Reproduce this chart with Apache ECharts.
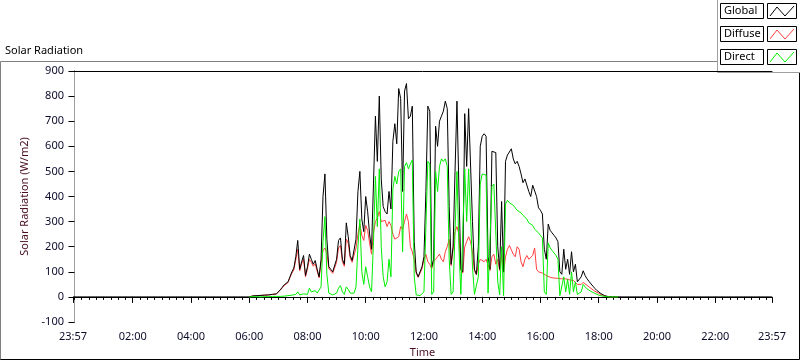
<!DOCTYPE html>
<html><head><meta charset="utf-8">
<script src="https://cdn.jsdelivr.net/npm/echarts@6/dist/echarts.min.js"></script>
<style>html,body{margin:0;padding:0;background:#fff;}#c{width:800px;height:361px;}</style>
</head><body><div id="c"></div>
<script>
// ---- axis ----
const axisMinMinute = -3, axisMaxMinute = 1437;
const majorTickMinutes = [-3,120,240,360,480,600,720,840,960,1080,1200,1320,1437];
const majorTickLabels = ['23:57','02:00','04:00','06:00','08:00','10:00','12:00','14:00','16:00','18:00','20:00','22:00','23:57'];
const yMin = -100, yMax = 900, yStep = 100;
// ---- data: samples every 4 minutes starting 06:00 ----
const startMinute = 360, stepMinute = 4;
const nightValue = 0;
const globalVals = [0,3,4,3,5,4,6,5,7,8,
8,9,10,10,12,18,28,38,48,52,
60,80,100,115,160,225,110,140,165,85,
120,170,150,130,145,110,80,150,400,490,
230,120,110,100,95,150,225,235,150,130,
295,240,165,145,150,230,420,500,310,260,
400,340,250,190,450,720,540,800,470,360,
340,330,420,350,620,690,610,830,790,420,
820,850,710,720,760,220,100,80,85,120,
160,420,760,740,120,150,680,600,700,720,
740,780,750,360,130,200,500,780,430,110,
100,730,520,750,745,300,110,90,200,600,
640,650,640,160,110,580,585,575,200,110,
380,100,540,565,560,590,550,530,540,520,
490,455,470,465,420,400,445,450,400,355,
345,330,190,150,290,265,255,245,235,220,
100,90,190,110,150,90,180,100,130,60,
55,80,104,85,72,62,52,43,34,26,
20,14,9,5,3,1,0,0,0,0,0];
const diffuseVals = [0,3,4,3,5,4,6,5,7,8,
8,9,10,10,12,17,27,36,45,50,
57,77,95,108,148,190,104,132,150,80,
112,150,138,122,132,102,76,135,185,195,
175,112,104,94,88,138,195,205,140,122,
230,215,155,138,140,195,250,290,245,225,
285,265,215,170,255,300,315,340,300,295,
305,280,300,285,250,230,225,240,280,270,
300,330,300,200,180,150,95,78,82,112,
150,170,140,130,112,140,150,160,170,150,
140,180,200,230,125,190,260,280,250,105,
95,200,220,240,220,180,105,88,130,150,
145,140,150,150,105,160,170,130,150,105,
170,98,160,190,205,200,170,160,200,190,
140,120,150,165,150,145,165,195,110,100,
95,95,90,85,80,78,76,75,74,74,
74,72,78,72,70,68,72,65,60,50,
45,50,58,52,46,40,34,28,23,18,
14,10,6,4,2,1,0,0,0,0,0];
const directVals = [0,0,1,0,1,1,0,1,1,0,
1,1,2,1,2,3,2,3,3,4,
5,5,7,8,10,20,8,10,12,6,
10,35,20,15,25,15,8,40,220,320,
90,15,10,8,8,15,35,45,20,10,
40,30,15,10,15,40,200,310,100,50,
120,80,40,20,220,480,280,510,200,80,
40,60,150,80,430,480,450,500,510,180,
520,535,510,530,545,80,8,5,5,10,
20,280,540,530,10,20,500,420,520,550,
540,550,520,150,10,20,260,500,200,10,
8,510,300,510,505,120,10,5,80,450,
490,490,485,15,8,440,450,445,60,8,
200,5,370,385,375,370,365,360,345,340,
335,325,320,310,295,290,285,270,265,255,
245,235,20,10,215,195,185,175,165,150,
5,5,80,20,70,10,100,20,60,10,
10,20,50,40,32,27,22,18,14,10,
7,5,3,2,1,0,0,0,0,0,0];
const seriesNames = ['Global','Diffuse','Direct'];
const seriesColors = ['#000000','#ff4040','#00ee00'];

function toPairs(vals){ return vals.map((v,i)=>[startMinute+i*stepMinute, v]); }
const globalData = [[axisMinMinute, nightValue]].concat(toPairs(globalVals)).concat([[axisMaxMinute, nightValue]]);
const diffuseData = toPairs(diffuseVals);
const directData = toPairs(directVals);

const minorTicks = [];
for (let m = 0; m <= 1425; m += 15) minorTicks.push(m);

const FONT = 'Noto Sans';
const tickColor = '#0b0b2a';
const nameColor = '#4a1020';

const chart = echarts.init(document.getElementById('c'), null, {renderer:'canvas'});
const legendRows = seriesNames.map((n, r) => {
  const y0 = 3 + r * 23;
  return [
    {type:'rect', shape:{x:720.5,y:y0+0.5,width:43,height:15}, style:{fill:'#fff',stroke:'#000',lineWidth:1}},
    {type:'text', style:{x:724,y:y0+8,text:n,font:'11px "Noto Sans"',fill:'#000',textVerticalAlign:'middle'}},
    {type:'rect', shape:{x:767.5,y:y0+0.5,width:29,height:15}, style:{fill:'#fff',stroke:'#000',lineWidth:1}},
    {type:'polyline', shape:{points:[[770,y0+13],[777,y0+4],[785,y0+13],[794,y0+3]]}, style:{stroke:seriesColors[r],lineWidth:1,fill:null}}
  ];
}).flat();

const option = {
  animation:false,
  backgroundColor:'#ffffff',
  grid:{left:73,right:28,top:71,bottom:39,containLabel:false,outerBoundsMode:'none'},
  xAxis:[{
    type:'value', min:axisMinMinute, max:axisMaxMinute, position:'bottom',
    name:'Time', nameLocation:'middle', nameGap:25,
    nameTextStyle:{color:nameColor,fontFamily:FONT,fontSize:11},
    axisLine:{show:true,lineStyle:{color:'#000',width:1}},
    axisTick:{show:true,customValues:majorTickMinutes,length:6,lineStyle:{color:'#000'}},
    axisLabel:{show:true,customValues:majorTickMinutes,margin:9,color:tickColor,fontFamily:FONT,fontSize:11,
      showMinLabel:true,showMaxLabel:true,
      formatter:v=>{const k=majorTickMinutes.indexOf(Math.round(v));return k>=0?majorTickLabels[k]:'';}},
    splitLine:{show:false}
  },{
    type:'value', min:axisMinMinute, max:axisMaxMinute, position:'bottom',
    axisLine:{show:false}, axisLabel:{show:false}, splitLine:{show:false},
    axisTick:{show:true,customValues:minorTicks,length:3,lineStyle:{color:'#000'}}
  },{
    type:'value', min:axisMinMinute, max:axisMaxMinute, position:'top',
    axisLine:{show:true,lineStyle:{color:'#000'}}, axisLabel:{show:false}, axisTick:{show:false}, splitLine:{show:false}
  }],
  yAxis:[{
    type:'value', min:yMin, max:yMax, interval:yStep, position:'left',
    name:'Solar Radiation (W/m2)', nameLocation:'middle', nameGap:41, nameRotate:90,
    nameTextStyle:{color:nameColor,fontFamily:FONT,fontSize:11},
    axisLine:{show:true,lineStyle:{color:'#000'}},
    axisTick:{show:true,length:6,lineStyle:{color:'#000'}},
    axisLabel:{color:tickColor,fontFamily:FONT,fontSize:11,margin:9},
    splitLine:{show:false}
  },{
    type:'value', min:yMin, max:yMax, position:'right',
    axisLine:{show:true,lineStyle:{color:'#a0a0a0'}}, axisLabel:{show:false}, axisTick:{show:false}, splitLine:{show:false}
  }],
  series:[
    {name:'Diffuse',type:'line',data:diffuseData,showSymbol:false,symbol:'none',lineStyle:{color:seriesColors[1],width:1},itemStyle:{color:seriesColors[1]},silent:true},
    {name:'Global',type:'line',data:globalData,showSymbol:false,symbol:'none',lineStyle:{color:seriesColors[0],width:1},itemStyle:{color:seriesColors[0]},silent:true},
    {name:'Direct',type:'line',data:directData,showSymbol:false,symbol:'none',lineStyle:{color:seriesColors[2],width:1},itemStyle:{color:seriesColors[2]},silent:true}
  ],
  graphic:[
    {type:'text', style:{x:5,y:51,text:'Solar Radiation',font:'11px "Noto Sans"',fill:'#000',textVerticalAlign:'middle'}},
    {type:'polyline', shape:{points:[[0.5,360],[0.5,61.5],[717.5,61.5]]}, style:{stroke:'#808080',lineWidth:1,fill:null}},
    {type:'polyline', shape:{points:[[0.5,359.5],[799.5,359.5],[799.5,72.5]]}, style:{stroke:'#000',lineWidth:1,fill:null}},
    {type:'polyline', shape:{points:[[717.5,0],[717.5,72.5],[800,72.5]]}, style:{stroke:'#a0a0a0',lineWidth:1,fill:null}}
  ].concat(legendRows)
};
chart.setOption(option);
</script></body></html>
